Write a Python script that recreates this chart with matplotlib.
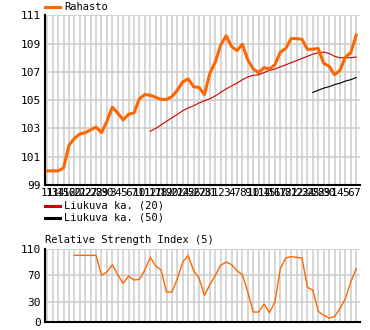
import matplotlib
matplotlib.use("Agg")
import matplotlib.pyplot as plt
from matplotlib.lines import Line2D
import numpy as np

# ---------------- data ----------------
x_labels = ['11','13','14','15','16','20','21','22','27','28',
            '29','30','3','4','5','6','7','10','11','12',
            '17','18','19','20','21','24','25','26','27','28',
            '31','1','2','3','4','7','8','9','10','11',
            '14','15','16','17','18','21','22','23','24','25',
            '28','29','30','1','4','5','6','7']

rahasto = [100.0, 100.0, 100.0, 100.2, 101.8, 102.3, 102.6, 102.7, 102.9, 103.1,
           102.7, 103.5, 104.5, 104.1, 103.6, 104.0, 104.1, 105.1, 105.4, 105.35,
           105.2, 105.05, 105.05, 105.25, 105.7, 106.3, 106.5, 105.95, 105.9, 105.4,
           106.9, 107.7, 108.9, 109.55, 108.8, 108.5, 108.95, 107.85, 107.2, 106.95,
           107.3, 107.2, 107.5, 108.4, 108.65, 109.35, 109.35, 109.3, 108.6, 108.6,
           108.65, 107.6, 107.4, 106.8, 107.1, 108.05, 108.35, 109.6]

ma20 = [None]*19 + [102.8, 103.0, 103.25, 103.5, 103.75, 104.0, 104.25, 104.45, 104.6, 104.8,
                    104.95, 105.1, 105.3, 105.55, 105.8, 106.0, 106.2, 106.45, 106.65, 106.75,
                    106.8, 106.95, 107.1, 107.2, 107.35, 107.5, 107.65, 107.8, 107.95, 108.1,
                    108.25, 108.35, 108.4, 108.3, 108.1, 108.0, 108.0, 108.0, 108.05]

ma50 = [None]*49 + [105.55, 105.7, 105.85, 105.95, 106.1, 106.2, 106.35, 106.45, 106.6]

rsi = [None]*5 + [100, 100, 100, 100, 100, 70, 75, 86, 71, 58,
                  69, 63, 64, 78, 97, 84, 78, 45, 45, 65,
                  90, 100, 77, 66, 40, 56, 70, 85, 90, 86,
                  77, 71, 45, 15, 15, 27, 14, 30, 80, 96,
                  98, 97, 96, 52, 48, 16, 10, 6, 8, 20,
                  35, 60, 80]

main_yticks = [99, 101, 103, 105, 107, 109, 111]
rsi_yticks = [0, 30, 70, 110]

# ---------------- style ----------------
W, H = 370, 330
DPI = 100
FONT = 'DejaVu Sans Mono'
FS = 7.2
ORANGE = '#ff6600'
RED = '#cc0000'
GRID = '#cccccc'

plt.rcParams['font.family'] = [FONT, 'DejaVu Sans']
plt.rcParams['font.size'] = FS

fig = plt.figure(figsize=(W / DPI, H / DPI), dpi=DPI)
fig.patch.set_facecolor('white')


def rect(x0, y0, x1, y1):
    return [x0 / W, 1 - y1 / H, (x1 - x0) / W, (y1 - y0) / H]


def fx(px):
    return px / W


def fy(py):
    return 1 - py / H


n = len(rahasto)
xs = np.arange(n)
xlim = (-0.42, 57.7)


def to_arr(v):
    return np.array([np.nan if a is None else a for a in v], dtype=float)


def style_axes(ax):
    for s in ('top', 'right'):
        ax.spines[s].set_visible(False)
    for s in ('left', 'bottom'):
        ax.spines[s].set_color('black')
        ax.spines[s].set_linewidth(1.5)
    ax.set_xticks(xs)
    ax.grid(True, color=GRID, linewidth=1.1, zorder=0)
    ax.set_axisbelow(True)
    ax.tick_params(length=0, labelsize=FS + 0.8, pad=3, colors='black')


# ---------------- main chart ----------------
ax = fig.add_axes(rect(45, 15.3, 360, 185))
style_axes(ax)
ax.set_xlim(*xlim)
ax.set_ylim(99, 111)
ax.set_yticks(main_yticks)
ax.set_yticklabels([str(t) for t in main_yticks])
ax.set_xticklabels(x_labels)
ax.tick_params(axis='x', pad=2)
ax.plot(xs, to_arr(ma20), color=RED, linewidth=0.8, zorder=3)
ax.plot(xs, to_arr(ma50), color='black', linewidth=0.8, zorder=3)
ax.plot(xs, to_arr(rahasto), color=ORANGE, linewidth=2.2, zorder=4,
        solid_joinstyle='round')

# legends
fig.add_artist(Line2D([fx(45), fx(60)], [fy(6.7), fy(6.7)], color=ORANGE, linewidth=2.2))
fig.text(fx(64), fy(7), 'Rahasto', ha='left', va='center', fontsize=FS + 0.3)
fig.add_artist(Line2D([fx(45), fx(60)], [fy(206), fy(206)], color=RED, linewidth=2.2))
fig.text(fx(64), fy(206), 'Liukuva ka. (20)', ha='left', va='center', fontsize=FS + 0.3)
fig.add_artist(Line2D([fx(45), fx(60)], [fy(217.7), fy(217.7)], color='black', linewidth=2.2))
fig.text(fx(64), fy(217.7), 'Liukuva ka. (50)', ha='left', va='center', fontsize=FS + 0.3)

# ---------------- RSI ----------------
ax2 = fig.add_axes(rect(45, 248.7, 360, 322))
style_axes(ax2)
ax2.set_xlim(*xlim)
ax2.set_ylim(0, 110)
ax2.set_yticks(rsi_yticks)
ax2.set_yticklabels([str(t) for t in rsi_yticks])
ax2.set_xticklabels([])
ax2.plot(xs, to_arr(rsi), color=ORANGE, linewidth=1.0, zorder=3)
fig.text(fx(45), fy(240), 'Relative Strength Index (5)', ha='left', va='center',
         fontsize=FS + 0.3)

fig.savefig('out.png', dpi=DPI, facecolor='white')
